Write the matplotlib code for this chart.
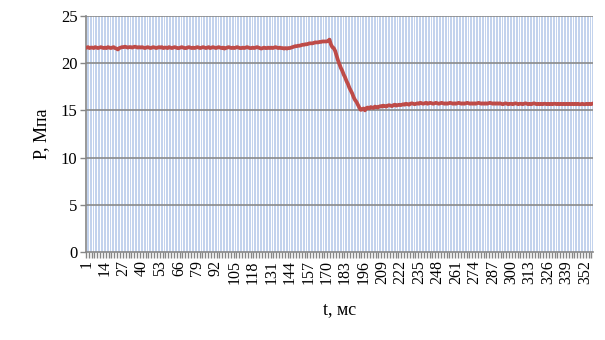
import matplotlib
matplotlib.use("Agg")
import matplotlib.pyplot as plt
import numpy as np

# Pressure values, one per time step (categories 1..357)
pressure = [
    21.65, 21.7, 21.6, 21.65, 21.65, 21.6, 21.7, 21.65, 21.6, 21.65, 21.7, 21.65, 21.6,
    21.65, 21.6, 21.7, 21.65, 21.6, 21.65, 21.7, 21.6, 21.55, 21.45, 21.6, 21.65, 21.7,
    21.7, 21.75, 21.7, 21.65, 21.7, 21.7, 21.65, 21.7, 21.75, 21.7, 21.65, 21.7, 21.65,
    21.7, 21.65, 21.6, 21.65, 21.7, 21.65, 21.6, 21.65, 21.7, 21.65, 21.6, 21.65, 21.7,
    21.65, 21.7, 21.6, 21.65, 21.65, 21.6, 21.7, 21.65, 21.6, 21.65, 21.7, 21.65, 21.6,
    21.6, 21.65, 21.7, 21.65, 21.6, 21.6, 21.65, 21.7, 21.65, 21.6, 21.65, 21.6, 21.65,
    21.7, 21.65, 21.6, 21.65, 21.7, 21.65, 21.6, 21.65, 21.7, 21.6, 21.65, 21.7, 21.65,
    21.6, 21.65, 21.7, 21.65, 21.6, 21.65, 21.55, 21.6, 21.65, 21.7, 21.65, 21.6, 21.65,
    21.6, 21.65, 21.7, 21.65, 21.6, 21.6, 21.65, 21.6, 21.65, 21.7, 21.65, 21.6, 21.6,
    21.65, 21.6, 21.65, 21.7, 21.65, 21.6, 21.55, 21.6, 21.65, 21.6, 21.6, 21.65, 21.6,
    21.65, 21.6, 21.65, 21.7, 21.65, 21.6, 21.65, 21.6, 21.6, 21.55, 21.6, 21.55, 21.6,
    21.6, 21.65, 21.7, 21.75, 21.8, 21.8, 21.85, 21.85, 21.9, 21.95, 21.95, 22.0, 22.0,
    22.05, 22.1, 22.1, 22.1, 22.15, 22.2, 22.2, 22.2, 22.25, 22.25, 22.3, 22.3, 22.3,
    22.3, 22.35, 22.5, 22.0, 21.7, 21.6, 21.3, 20.8, 20.3, 19.9, 19.5, 19.2, 18.8,
    18.5, 18.1, 17.8, 17.4, 17.1, 16.8, 16.4, 16.1, 15.9, 15.6, 15.3, 15.05, 15.1,
    15.2, 15.0, 15.25, 15.3, 15.2, 15.35, 15.3, 15.25, 15.4, 15.35, 15.3, 15.4, 15.45,
    15.4, 15.5, 15.45, 15.4, 15.5, 15.55, 15.5, 15.45, 15.55, 15.6, 15.5, 15.55, 15.6,
    15.55, 15.6, 15.65, 15.6, 15.7, 15.65, 15.6, 15.7, 15.75, 15.7, 15.65, 15.7, 15.75,
    15.7, 15.8, 15.75, 15.7, 15.75, 15.8, 15.7, 15.75, 15.8, 15.75, 15.7, 15.75, 15.8,
    15.75, 15.7, 15.75, 15.8, 15.75, 15.7, 15.75, 15.7, 15.75, 15.8, 15.75, 15.7, 15.75,
    15.7, 15.75, 15.8, 15.75, 15.7, 15.75, 15.7, 15.75, 15.8, 15.75, 15.7, 15.75, 15.7,
    15.75, 15.7, 15.75, 15.8, 15.75, 15.7, 15.75, 15.7, 15.75, 15.7, 15.75, 15.8, 15.75,
    15.7, 15.75, 15.7, 15.75, 15.7, 15.75, 15.7, 15.65, 15.7, 15.75, 15.7, 15.65, 15.7,
    15.7, 15.65, 15.7, 15.75, 15.7, 15.65, 15.7, 15.7, 15.65, 15.7, 15.75, 15.7, 15.65,
    15.7, 15.65, 15.7, 15.75, 15.7, 15.65, 15.7, 15.65, 15.7, 15.65, 15.7, 15.7, 15.65,
    15.7, 15.65, 15.7, 15.65, 15.7, 15.7, 15.65, 15.7, 15.65, 15.7, 15.65, 15.7, 15.65,
    15.7, 15.65, 15.7, 15.65, 15.7, 15.65, 15.7, 15.65, 15.7, 15.65, 15.65, 15.7, 15.65,
    15.65, 15.7, 15.65, 15.7, 15.65, 15.7,
]
time_labels = [str(i + 1) for i in range(len(pressure))]
label_step = 13
y_ticks = [0, 5, 10, 15, 20, 25]
x_title = "t, мс"
y_title = "P, Мпа"

plt.rcParams['font.family'] = ['Liberation Serif', 'DejaVu Serif']

fig = plt.figure(figsize=(6.05, 3.4), dpi=100)
ax = fig.add_axes([0.142, 0.259, 0.838, 0.694])

n = len(pressure)
x = np.arange(n)

ax.set_facecolor('#c3d3ed')
# white vertical stripes (category gridlines)
for b in np.arange(-0.5, n, 2):
    ax.axvline(b, color='white', lw=0.72, zorder=1, antialiased=False)
for yt in y_ticks[1:]:
    ax.axhline(yt, color='#8a8a8a', lw=1.2, zorder=2)

ax.plot(x, pressure, color='#be4b48', lw=2.7, zorder=3)

ax.set_xlim(-0.5, n - 0.5)
ax.set_ylim(0, 25)
ax.set_yticks(y_ticks)
ax.set_yticklabels([str(v) for v in y_ticks], fontsize=12)

lbl_idx = list(range(0, n, label_step))
ax.set_xticks(lbl_idx)
ax.set_xticklabels([time_labels[i] for i in lbl_idx], rotation=90, fontsize=11.5)
ax.set_xticks(np.arange(-0.5, n, 2), minor=True)
ax.tick_params(axis='x', which='major', length=0, pad=6, colors='black')
ax.tick_params(axis='x', which='minor', length=4, width=1.0, color='#868686')
ax.tick_params(axis='y', length=4, color='#868686', width=1, pad=2)

for s in ['top', 'right']:
    ax.spines[s].set_visible(False)
for s in ['left', 'bottom']:
    ax.spines[s].set_color('#868686')
    ax.spines[s].set_linewidth(1.2)

ax.set_xlabel(x_title, fontsize=13, labelpad=12)
ax.set_ylabel(y_title, fontsize=13, labelpad=8)

fig.savefig('out.png', dpi=100)
